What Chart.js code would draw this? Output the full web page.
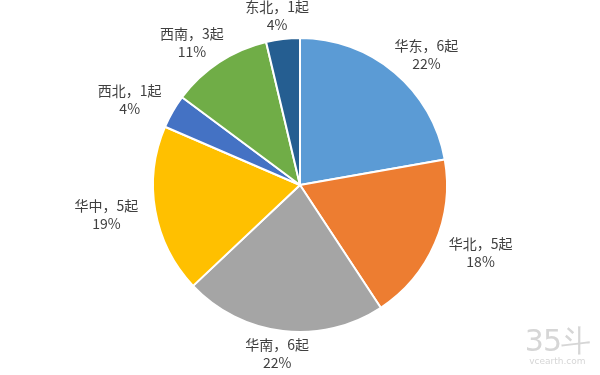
<!DOCTYPE html>
<html>
<head>
<meta charset="utf-8">
<script src="https://cdn.jsdelivr.net/npm/chart.js@4"></script>
<style>
  body { margin: 0; background: #fff; }
  #wrap { position: relative; width: 600px; height: 375px; }
  #mark { position: absolute; right: 10px; bottom: 8px; text-align: center; color: #d6d6d6; font-family: "DejaVu Sans", sans-serif; }
  #mark .big { font-size: 30px; line-height: 30px; letter-spacing: -1px; }
  #mark .small { font-size: 9px; line-height: 11px; }
</style>
</head>
<body>
<div id="wrap">
  <canvas id="pieChart" width="600" height="375"></canvas>
  <div id="mark"><div class="big">35斗</div><div class="small">vcearth.com</div></div>
</div>
<script>
// 数据
const regions = ["华东", "华北", "华南", "华中", "西北", "西南", "东北"];
const counts = [6, 5, 6, 5, 1, 3, 1];
const percents = ["22%", "18%", "22%", "19%", "4%", "11%", "4%"];
const colors = ["#5B9BD5", "#ED7D31", "#A5A5A5", "#FFC000", "#4472C4", "#70AD47", "#255E91"];

// 外侧标签
const outsideLabels = {
  id: "outsideLabels",
  afterDatasetsDraw(chart) {
    const ctx = chart.ctx;
    const meta = chart.getDatasetMeta(0);
    ctx.save();
    ctx.font = '14px "Noto Sans CJK SC", sans-serif';
    ctx.fillStyle = "#404040";
    ctx.textAlign = "center";
    ctx.textBaseline = "middle";
    meta.data.forEach((arc, i) => {
      const p = arc.getProps(["x", "y", "startAngle", "endAngle", "outerRadius"], true);
      const mid = (p.startAngle + p.endAngle) / 2;
      const line1 = regions[i] + "，" + counts[i] + "起";
      const w = ctx.measureText(line1).width;
      const h = 36;
      const r = p.outerRadius + 5;
      const cx = p.x + Math.cos(mid) * r + Math.cos(mid) * w * 0.7;
      const cy = p.y + Math.sin(mid) * r + Math.sin(mid) * h / 2;
      ctx.fillText(line1, cx, cy - 9);
      ctx.fillText(percents[i], cx, cy + 9);
    });
    ctx.restore();
  },
};

new Chart(document.getElementById("pieChart"), {
  type: "pie",
  data: {
    labels: regions,
    datasets: [
      {
        data: counts,
        backgroundColor: colors,
        borderColor: "#ffffff",
        borderWidth: 2,
      },
    ],
  },
  options: {
    responsive: false,
    animation: false,
    layout: { padding: { top: 37, bottom: 42 } },
    plugins: {
      legend: { display: false },
      tooltip: { enabled: false },
    },
  },
  plugins: [outsideLabels],
});
</script>
</body>
</html>
